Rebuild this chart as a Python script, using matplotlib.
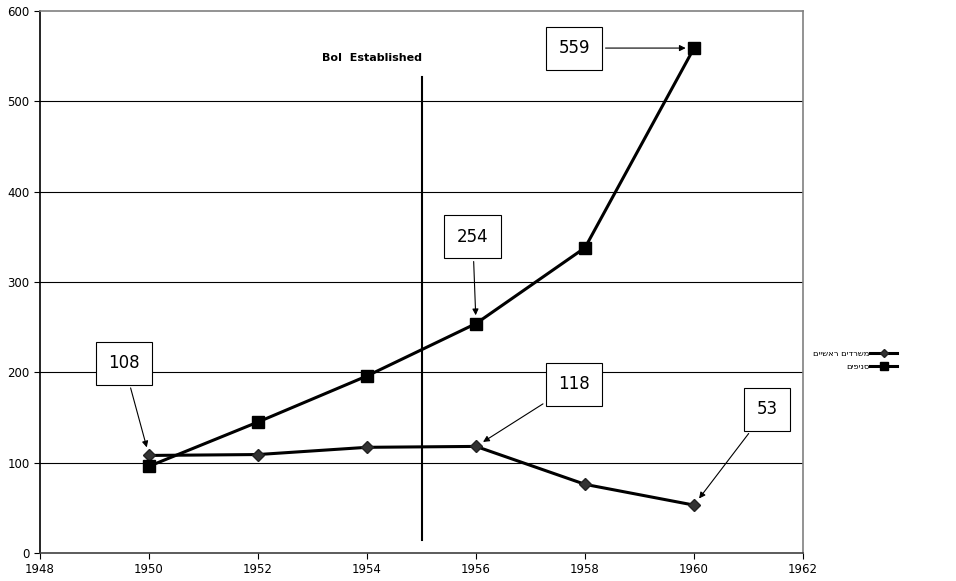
import numpy as np
import matplotlib
matplotlib.use("Agg")
from matplotlib import pyplot as plt

# נתוני בנקים לפי שנה
years = [1950, 1952, 1954, 1956, 1958, 1960]
head_offices = [108, 109, 117, 118, 76, 53]
branches = [96, 145, 196, 254, 338, 559]
series_names = ["משרדים ראשיים", "סניפים"]

x_ticks = [1948, 1950, 1952, 1954, 1956, 1958, 1960, 1962]
y_ticks = [0, 100, 200, 300, 400, 500, 600]

event_year = 1955
event_label = "BoI  Established"

if __name__ == "__main__":
    plt.rcParams['font.family'] = ['DejaVu Sans']
    fig = plt.figure(figsize=(9.56, 5.81), dpi=100)
    ax = fig.add_axes([0.0418, 0.0482, 0.7982, 0.9328])

    # matplotlib לא הופך טקסט עברי, לכן מסדרים אותו בסדר תצוגה
    visual = [s[::-1] for s in series_names]

    ax.plot(years, head_offices, color="black", lw=2.2, marker="D",
            markersize=6, markerfacecolor="#333333", markeredgecolor="#222222",
            label=visual[0], zorder=4)
    ax.plot(years, branches, color="black", lw=2.2, marker="s",
            markersize=9, label=visual[1], zorder=5)

    ax.set_xlim(1948, 1962)
    ax.set_ylim(0, 600)
    ax.set_xticks(x_ticks)
    ax.set_yticks(y_ticks)
    ax.tick_params(labelsize=8.5, length=4, width=0.8, direction="out")

    for v in y_ticks[1:-1]:
        ax.axhline(v, color="black", lw=0.8, zorder=1)

    for side in ["top", "right"]:
        ax.spines[side].set_color("#808080")
        ax.spines[side].set_linewidth(1.2)
    ax.spines["left"].set_color("black")
    ax.spines["left"].set_linewidth(1.2)
    ax.spines["bottom"].set_color("#404040")
    ax.spines["bottom"].set_linewidth(1.2)

    # קו הקמת בנק ישראל
    ax.plot([event_year, event_year], [14, 527], color="black", lw=1.5, zorder=3)
    ax.text(1954.09, 548, event_label, fontsize=8, fontweight="bold",
            ha="center", va="center")

    # תוויות ערכים עם חצים
    notes = [
        (head_offices[0], years[0], (1949.54, 210)),
        (branches[3], years[3], (1955.94, 350)),
        (branches[5], years[5], (1957.80, 559)),
        (head_offices[3], years[3], (1957.80, 187)),
        (head_offices[5], years[5], (1961.34, 159)),
    ]
    for val, yr, pos in notes:
        ax.annotate(str(val), xy=(yr, val), xytext=pos,
                    fontsize=12, ha="center", va="center",
                    bbox=dict(boxstyle="square,pad=0.75", fc="white",
                              ec="black", lw=0.8),
                    arrowprops=dict(arrowstyle="-|>", color="black", lw=0.8,
                                    mutation_scale=9, shrinkB=6),
                    zorder=6)

    fig.legend(loc="center left", bbox_to_anchor=(0.843, 0.38),
               frameon=False, fontsize=6, markerfirst=False,
               handlelength=3.3, handletextpad=0.0, markerscale=0.7,
               labelspacing=0.5)

    plt.savefig("out.png", dpi=100)
